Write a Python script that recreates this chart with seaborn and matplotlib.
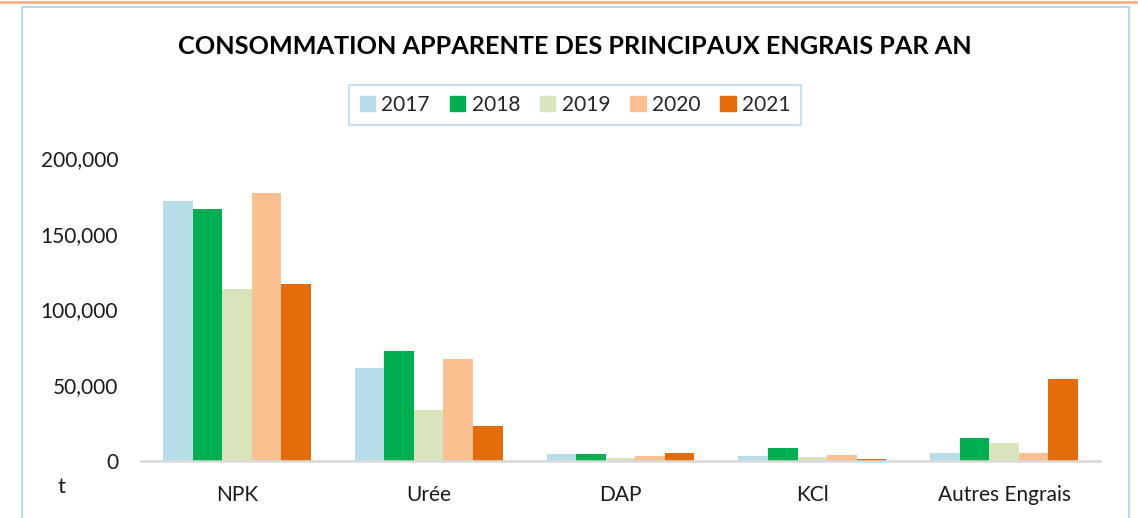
import pandas as pd
import matplotlib.pyplot as plt
import seaborn as sns
from matplotlib.lines import Line2D
from matplotlib.patches import Rectangle
from matplotlib.ticker import FuncFormatter

categories = ['NPK', 'Urée', 'DAP', 'KCl', 'Autres Engrais']
years = ['2017', '2018', '2019', '2020', '2021']
v2017 = [171800, 61200, 4300, 3500, 5000]
v2018 = [166100, 72600, 4300, 8300, 15300]
v2019 = [113700, 33900, 2300, 2500, 12200]
v2020 = [176900, 67300, 3200, 3800, 5200]
v2021 = [116600, 23100, 5500, 1400, 54000]
colors = ['#B7DDE8', '#00B050', '#D8E4BC', '#FAC090', '#E46C0A']

rows = []
for year, vals in zip(years, [v2017, v2018, v2019, v2020, v2021]):
    for cat, v in zip(categories, vals):
        rows.append({'categorie': cat, 'annee': year, 'valeur': v})
df = pd.DataFrame(rows)

sns.set_style('white')
plt.rcParams['font.family'] = ['Lato', 'DejaVu Sans']

fig = plt.figure(figsize=(11.38, 5.18), dpi=100)
ax = fig.add_axes([141 / 1138, 1 - 461 / 518, (1100 - 141) / 1138, (461 - 158) / 518])

sns.barplot(data=df, x='categorie', y='valeur', hue='annee', palette=colors,
            saturation=1, width=0.77, linewidth=0, ax=ax, legend=False)

ax.set_ylim(0, 200000)
ax.set_yticks([0, 50000, 100000, 150000, 200000])
ax.yaxis.set_major_formatter(FuncFormatter(lambda v, p: f'{int(v):,}'))
ax.set_xlabel('')
ax.set_ylabel('')
for s in ['top', 'right', 'left']:
    ax.spines[s].set_visible(False)
ax.spines['bottom'].set_color('#D9D9D9')
ax.spines['bottom'].set_linewidth(1.8)
ax.tick_params(axis='x', length=0, pad=17, labelsize=15, labelcolor='#1a1a1a')
ax.tick_params(axis='y', length=0, pad=16.5, labelsize=15, labelcolor='#1a1a1a')

# title, unit, legend
fig.text(575 / 1138, 1 - 47 / 518, 'CONSOMMATION APPARENTE DES PRINCIPAUX ENGRAIS PAR AN',
         ha='center', va='center', fontsize=18.2, fontweight='bold', color='black')
fig.text(62 / 1138, 1 - 487 / 518, 't', ha='center', va='center', fontsize=16, color='#1a1a1a')

handles = [Rectangle((0, 0), 1, 1, color=c) for c in colors]
leg = fig.legend(handles, years, loc='center', bbox_to_anchor=(575 / 1138, 1 - 105 / 518),
                 ncol=5, frameon=True, fontsize=15, handlelength=0.75, handleheight=0.75,
                 handletextpad=0.3, columnspacing=0.95, borderpad=0.5, fancybox=False)
leg.get_frame().set_edgecolor('#BDD7EE')
leg.get_frame().set_linewidth(1.5)

# chart frame and top line
fig.add_artist(Rectangle((22 / 1138, -0.05), (1129 - 22) / 1138, 1.05 - 7 / 518,
                         transform=fig.transFigure, fill=False, edgecolor='#BDD7EE', linewidth=1.5))
fig.add_artist(Line2D([0, 1], [1 - 2 / 518, 1 - 2 / 518], transform=fig.transFigure,
                      color='#F4B183', linewidth=2))

fig.savefig('out.png', dpi=100)
